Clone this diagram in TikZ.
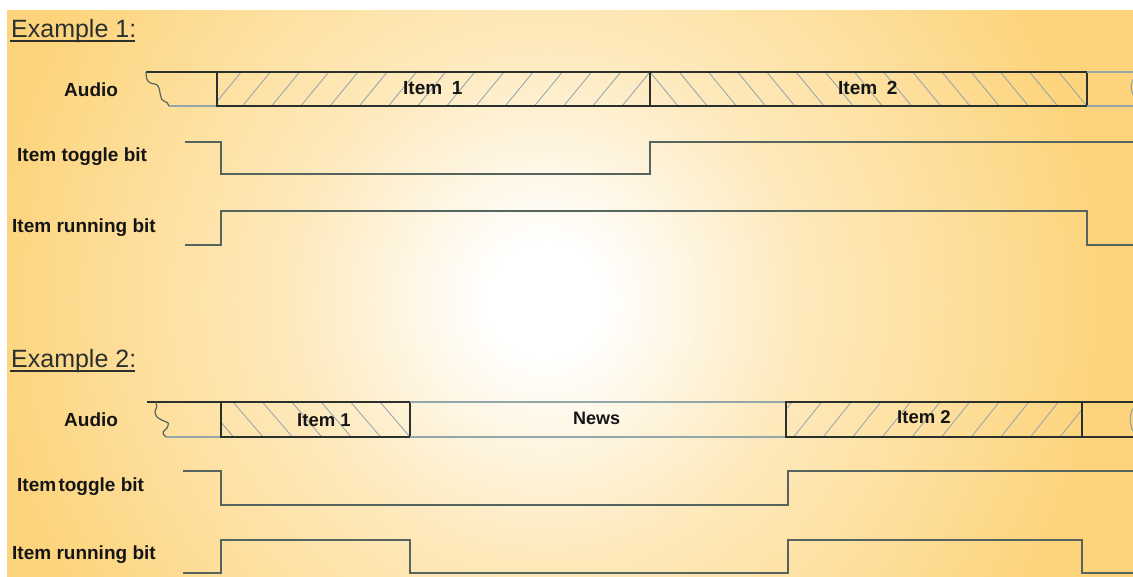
\documentclass[tikz,border=0pt]{standalone}
\usepackage{fontspec}
\setmainfont{Liberation Sans}
\definecolor{bgo}{HTML}{FDD47C}
\definecolor{boxc}{HTML}{2A302C}
\definecolor{sigc}{HTML}{56645F}
\definecolor{lightc}{HTML}{93A6AA}
\definecolor{hatchc}{HTML}{8FA3AC}
\definecolor{txtc}{HTML}{151515}
\pgfdeclareradialshading{bgshade}{\pgfpoint{0bp}{0bp}}{color(0bp)=(white); color(2bp)=(white); color(9bp)=(white!50!bgo); color(20bp)=(bgo); color(50bp)=(bgo)}
\tikzset{
  boxline/.style={draw=boxc, line width=1.4pt},
  lightline/.style={draw=lightc, line width=1.2pt},
  sigline/.style={draw=sigc, line width=1.4pt, line join=miter},
  hatchline/.style={draw=hatchc, line width=0.8pt},
  lab/.style={font=\bfseries\fontsize{19}{20}\selectfont, text=txtc, inner sep=0pt, anchor=west},
  itemlab/.style={font=\bfseries\fontsize{19}{20}\selectfont, text=txtc, inner sep=0pt, anchor=west},
  hdr/.style={font=\fontsize{25}{26}\selectfont, text=boxc, inner sep=0pt, anchor=base west},
  uline/.style={draw=boxc, line width=2pt},
}
\begin{document}
\begin{tikzpicture}[x=1pt,y=-1pt]
\useasboundingbox (0,0) rectangle (1133,576);
% background
\begin{scope}
  \clip (7,10) rectangle (1133,576);
  \shade[shading=bgshade] (-155,-400) rectangle (1245,1000);
\end{scope}

% ---------------- Example 1 ----------------
\node[hdr] (ex1) at (11,37) {Example 1:};
\draw[uline] (10,40.5) -- (135,40.5);

\node[lab] (aud1) at (64,90) {Audio};
\node[lab] (tog1) at (17,157) {Item toggle bit};
\node[lab] (run1) at (12,228) {Item running bit};

% hatching item 1
\begin{scope}
  \clip (217,72) rectangle (650,106);
  \foreach \k in {0,...,15} \draw[hatchline] ({622-29.2*\k},106) -- ({650-29.2*\k},72);
\end{scope}
% hatching item 2
\begin{scope}
  \clip (650,72) rectangle (1087,106);
  \foreach \k in {-1,...,15} \draw[hatchline] ({650+29.2*\k},72) -- ({678+29.2*\k},106);
\end{scope}
% audio strip
\draw[boxline] (146,72) -- (217,72);
\draw[lightline] (169,106) -- (217,106);
\draw[sigline, line width=1.2pt] (146,72) -- (146.5,78) .. controls (147.5,82) and (151,84) .. (155,84)
  .. controls (158,84.5) and (159.5,88) .. (160,93) -- (161.5,99)
  .. controls (162.5,101) and (165,101.5) .. (167,102.5) -- (169,106);
\draw[boxline] (217,72) rectangle (1087,106);
\draw[boxline] (650,72) -- (650,106);
\draw[lightline] (1087,72) -- (1133,72);
\draw[lightline] (1087,106) -- (1133,106);
\draw[lightline] (1135,77) .. controls (1130,82) and (1130,92) .. (1135,97);
\node[itemlab] (i11) at (403,88) {Item\hspace{0.5em}1};
\node[itemlab] (i12) at (838,88) {Item\hspace{0.5em}2};

% signals
\draw[sigline] (185,142) -- (221,142) -- (221,174) -- (650,174) -- (650,142) -- (1133,142);
\draw[sigline] (185,245) -- (221,245) -- (221,211) -- (1087,211) -- (1087,245) -- (1133,245);

% ---------------- Example 2 ----------------
\node[hdr] (ex2) at (11,367) {Example 2:};
\draw[uline] (10,370.5) -- (135,370.5);

\node[lab] (aud2) at (64,420) {Audio};
\node[lab] (tog2) at (17,487) {Item\hspace{0.12em}toggle bit};
\node[lab] (run2) at (12,555) {Item running bit};

% hatching item 1
\begin{scope}
  \clip (221,402) rectangle (410,437);
  \foreach \k in {0,...,8} \draw[hatchline] ({380-29.4*\k},402) -- ({410-29.4*\k},437);
\end{scope}
% hatching item 2
\begin{scope}
  \clip (786,402) rectangle (1082,437);
  \foreach \k in {-1,...,11} \draw[hatchline] ({1060-29.6*\k},437) -- ({1088-29.6*\k},402);
\end{scope}
% audio strip
\draw[boxline] (147,402) -- (221,402);
\draw[lightline] (166,437) -- (221,437);
\draw[sigline, line width=1.2pt] plot[smooth] coordinates {(156,402.3) (156.7,406.7) (155,411.7) (156.7,416.7) (161.7,420) (168.3,423.3) (166.7,428.3) (163.3,431.7) (163.3,434) (166,437)};
\draw[boxline] (221,402) rectangle (410,437);
\draw[lightline] (410,402) -- (786,402);
\draw[lightline] (410,437) -- (786,437);
\draw[boxline] (786,402) rectangle (1082,437);
\draw[boxline] (1082,402) -- (1133,402);
\draw[boxline] (1082,437) -- (1133,437);
\draw[lightline] (1137,404) .. controls (1128,410) and (1128,429) .. (1137,436);
\node[itemlab, font=\bfseries\fontsize{18.5}{20}\selectfont] (i21) at (297,420) {Item 1};
\node[itemlab, font=\bfseries\fontsize{18}{20}\selectfont] (news) at (573,418) {News};
\node[itemlab, font=\bfseries\fontsize{18.5}{20}\selectfont] (i22) at (897,417) {Item 2};

% signals
\draw[sigline] (183,471) -- (221,471) -- (221,505) -- (788,505) -- (788,471) -- (1133,471);
\draw[sigline] (183,573) -- (221,573) -- (221,540) -- (410,540) -- (410,573) -- (788,573) -- (788,540) -- (1082,540) -- (1082,573) -- (1133,573);
\end{tikzpicture}
\end{document}
